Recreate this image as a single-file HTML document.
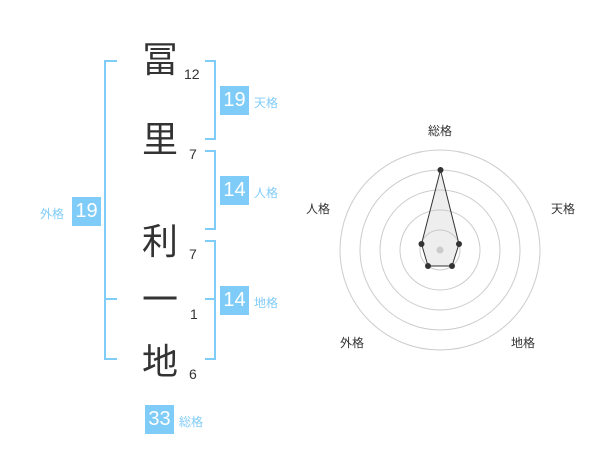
<!DOCTYPE html>
<html><head><meta charset="utf-8"><style>
html,body{margin:0;padding:0;background:#fff;}
body{width:600px;height:470px;overflow:hidden;position:relative;font-family:"Liberation Sans","Noto Sans CJK JP",sans-serif;}
.ch{position:absolute;left:140px;width:40px;text-align:center;font-size:36px;line-height:38px;color:#333;}
.n{position:absolute;font-size:14px;color:#333;line-height:16px;}
.b{position:absolute;width:29px;height:29px;background:#80ccf8;color:#fff;font-size:20px;line-height:29px;text-align:center;}
.l{position:absolute;font-size:12px;color:#80ccf8;line-height:14px;}
</style></head><body>
<svg width="600" height="470" style="position:absolute;left:0;top:0">
<g stroke="#80ccf8" stroke-width="2" fill="none">
<path d="M117 61H105V359H117M105 299H117"/>
<path d="M205 61H215V139H205"/>
<path d="M205 151H215V229H205"/>
<path d="M205 241H215V359H205M215 299H205"/>
</g>
<g stroke="#ccc" stroke-width="1" fill="none">
<circle cx="440" cy="250" r="20"/><circle cx="440" cy="250" r="40"/><circle cx="440" cy="250" r="60"/><circle cx="440" cy="250" r="80"/><circle cx="440" cy="250" r="100"/>
</g>
<circle cx="440" cy="250" r="3.5" fill="#ccc"/>
<polygon points="440.5,170 459,244 452,266 428,266 421.5,244" fill="rgba(200,200,200,0.3)" stroke="#333" stroke-width="1"/>
<g fill="#333"><circle cx="440.5" cy="170" r="3"/><circle cx="459" cy="244" r="3"/><circle cx="452" cy="266" r="3"/><circle cx="428" cy="266" r="3"/><circle cx="421.5" cy="244" r="3"/></g>
<g font-size="12" fill="#333" text-anchor="middle" font-family="Liberation Sans,Noto Sans CJK JP,sans-serif">
<text x="440" y="135">総格</text><text x="563" y="213">天格</text><text x="318" y="213">人格</text><text x="352" y="347">外格</text><text x="523" y="347">地格</text>
</g>
</svg>
<div class="ch" style="top:41px">冨</div>
<div class="ch" style="top:121px">里</div>
<div class="ch" style="top:223px">利</div>
<div class="ch" style="top:281px">一</div>
<div class="ch" style="top:343px">地</div>
<div class="n" style="left:184px;top:66px">12</div>
<div class="n" style="left:189px;top:146px">7</div>
<div class="n" style="left:189px;top:246px">7</div>
<div class="n" style="left:190px;top:306px">1</div>
<div class="n" style="left:189px;top:366px">6</div>
<div class="b" style="left:220px;top:86px">19</div><div class="l" style="left:254px;top:96px">天格</div>
<div class="b" style="left:220px;top:176px">14</div><div class="l" style="left:254px;top:186px">人格</div>
<div class="b" style="left:220px;top:286px">14</div><div class="l" style="left:254px;top:296px">地格</div>
<div class="b" style="left:72px;top:197px">19</div><div class="l" style="left:40px;top:207px">外格</div>
<div class="b" style="left:145px;top:405px">33</div><div class="l" style="left:179px;top:415px">総格</div>
</body></html>
